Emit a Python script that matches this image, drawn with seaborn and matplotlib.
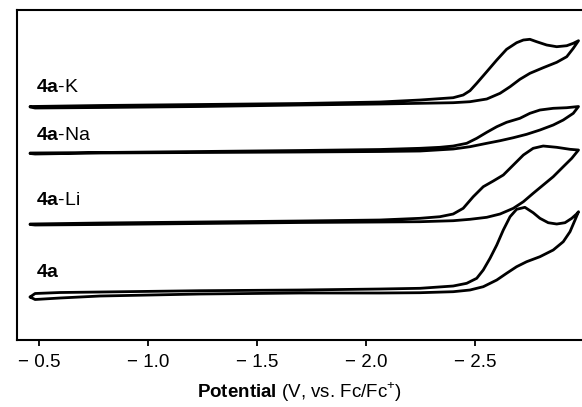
import numpy as np
import pandas as pd
import matplotlib
matplotlib.use("Agg")
import matplotlib.pyplot as plt
import seaborn as sns

sns.set_style("white")
plt.rcParams['font.family'] = ['Liberation Sans', 'DejaVu Sans']
plt.rcParams['mathtext.fontset'] = 'custom'
plt.rcParams['mathtext.rm'] = 'Liberation Sans'
plt.rcParams['mathtext.bf'] = 'Liberation Sans:bold'
plt.rcParams['text.color'] = 'black'
plt.rcParams['axes.labelcolor'] = 'black'
plt.rcParams['xtick.color'] = 'black'

# Cyclic voltammograms (potential in V vs Fc/Fc+, current in a.u., stacked)
# each trace: cathodic sweep out to the switching potential, then back
samples = ['4a-K', '4a-Na', '4a-Li', '4a']

E_K = [-0.459, -0.780, -1.239, -1.697, -2.064, -2.248, -2.400, -2.446, -2.477, -2.508,
       -2.554, -2.600, -2.645, -2.691, -2.722, -2.752, -2.783, -2.829, -2.875, -2.921,
       -2.951, -2.975,
       -2.951, -2.921, -2.875, -2.813, -2.752, -2.706, -2.661, -2.615, -2.554, -2.477,
       -2.400, -2.248, -2.064, -1.697, -1.239, -0.780, -0.482, -0.459]
I_K = [23.35, 23.45, 23.55, 23.65, 23.8, 24.0, 24.23, 24.5, 24.93, 25.67,
       26.83, 28.0, 29.07, 29.73, 30.0, 30.07, 29.83, 29.5, 29.33, 29.43,
       29.67, 29.93,
       29.17, 28.33, 27.77, 27.23, 26.67, 26.07, 25.33, 24.67, 24.1, 23.83,
       23.73, 23.67, 23.6, 23.5, 23.35, 23.25, 23.2, 23.3]

E_Na = [-0.459, -0.780, -1.239, -1.697, -2.064, -2.248, -2.339, -2.400, -2.462, -2.508,
        -2.554, -2.600, -2.645, -2.706, -2.752, -2.798, -2.859, -2.921, -2.975,
        -2.951, -2.905, -2.859, -2.798, -2.737, -2.676, -2.615, -2.554, -2.477, -2.400,
        -2.324, -2.248, -2.064, -1.697, -1.239, -0.780, -0.482, -0.459]
I_Na = [18.7, 18.75, 18.85, 18.95, 19.05, 19.17, 19.27, 19.4, 19.67, 20.17,
        20.77, 21.33, 21.77, 22.17, 22.67, 23.0, 23.17, 23.23, 23.35,
        22.67, 22.0, 21.5, 21.0, 20.57, 20.23, 19.93, 19.67, 19.33, 19.1,
        19.0, 18.9, 18.85, 18.8, 18.75, 18.7, 18.6, 18.65]

E_Li = [-0.459, -0.780, -1.239, -1.697, -2.064, -2.248, -2.339, -2.400, -2.446, -2.492,
        -2.538, -2.584, -2.630, -2.676, -2.722, -2.767, -2.813, -2.875, -2.936, -2.975,
        -2.944, -2.905, -2.859, -2.813, -2.767, -2.722, -2.676, -2.615, -2.554, -2.477,
        -2.400, -2.248, -2.064, -1.697, -1.239, -0.780, -0.482, -0.459]
I_Li = [11.6, 11.7, 11.8, 11.9, 12.0, 12.17, 12.33, 12.6, 13.17, 14.33,
        15.33, 15.9, 16.5, 17.5, 18.5, 19.17, 19.4, 19.27, 19.07, 19.0,
        18.17, 17.33, 16.33, 15.5, 14.67, 13.83, 13.17, 12.6, 12.27, 12.07,
        11.93, 11.83, 11.8, 11.75, 11.65, 11.55, 11.5, 11.55]

E_4a = [-0.459, -0.482, -0.596, -0.780, -1.239, -1.697, -2.064, -2.248, -2.400, -2.462,
        -2.508, -2.538, -2.569, -2.600, -2.630, -2.661, -2.691, -2.729, -2.767, -2.798,
        -2.836, -2.875, -2.913, -2.944, -2.966, -2.975,
        -2.959, -2.936, -2.905, -2.859, -2.798, -2.737, -2.691, -2.645, -2.600, -2.538,
        -2.477, -2.400, -2.248, -2.064, -1.697, -1.239, -0.780, -0.596, -0.482, -0.459]
I_4a = [4.3, 4.65, 4.75, 4.8, 4.93, 5.0, 5.1, 5.17, 5.4, 5.67,
        6.17, 7.0, 8.17, 9.5, 11.0, 12.33, 13.07, 13.27, 12.73, 12.17,
        11.73, 11.6, 11.73, 12.17, 12.6, 12.83,
        12.0, 10.83, 9.83, 9.0, 8.33, 7.83, 7.33, 6.67, 6.0, 5.33,
        5.0, 4.83, 4.73, 4.7, 4.7, 4.6, 4.4, 4.2, 4.05, 4.3]

tick_values = [-0.5, -1.0, -1.5, -2.0, -2.5]
tick_labels = ['\u2212 0.5', '\u2212 1.0', '\u2212 1.5', '\u2212 2.0', '\u2212 2.5']

traces = [(E_K, I_K), (E_Na, I_Na), (E_Li, I_Li), (E_4a, I_4a)]
frames = []
for name, (E, I) in zip(samples, traces):
    frames.append(pd.DataFrame({'E': E, 'I': I, 'sample': name,
                                'step': np.arange(len(E))}))
cv = pd.concat(frames, ignore_index=True)

fig = plt.figure(figsize=(5.82, 4.07), dpi=100)
ax = fig.add_axes([0.0292, 0.1646, 0.9708, 0.8108])

sns.lineplot(data=cv, x='E', y='I', units='sample', estimator=None, sort=False,
             color='black', linewidth=2.0, ax=ax, legend=False)
for line in ax.get_lines():
    line.set_solid_joinstyle('round')
    line.set_solid_capstyle('round')

# trace labels
label_y = [24.8, 20.0, 13.5, 6.3]
for name, y in zip(samples, label_y):
    parts = name.split('-', 1)
    txt = r'$\bf{' + parts[0] + '}$' + ('-' + parts[1] if len(parts) > 1 else '')
    ax.text(-0.486, y, txt, fontsize=14, va='baseline', ha='left')

ax.set_xlim(-0.399, -2.991)
ax.set_ylim(0, 33)
ax.set_xticks(tick_values)
ax.set_xticklabels(tick_labels, fontsize=13.5)
ax.set_yticks([])
ax.set_xlabel(r'$\bf{Potential}$ (V, vs. Fc/Fc$^{+}$)', fontsize=13.5, labelpad=7)
ax.set_ylabel('')
ax.tick_params(axis='x', direction='out', length=4, width=1.3, pad=6, bottom=True)
for side in ['left', 'top', 'bottom']:
    ax.spines[side].set_linewidth(1.5)
    ax.spines[side].set_color('black')
ax.spines['right'].set_visible(False)

fig.savefig('out.png', dpi=100)
